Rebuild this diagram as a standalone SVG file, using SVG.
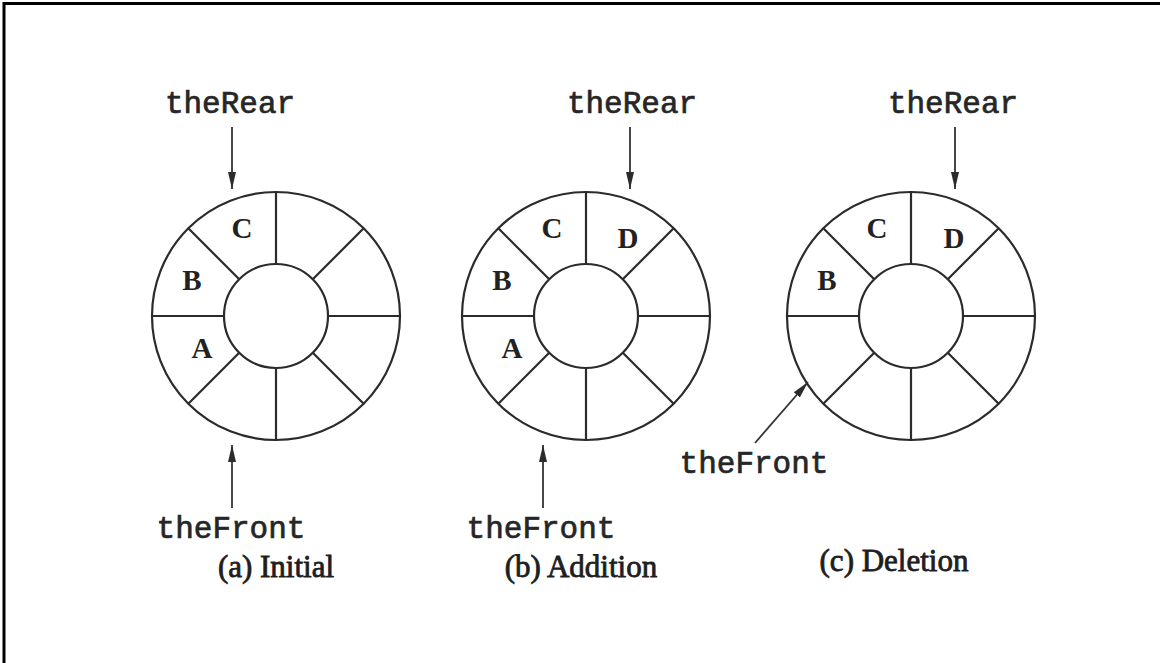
<svg xmlns="http://www.w3.org/2000/svg" xmlns:xlink="http://www.w3.org/1999/xlink" width="1160" height="663" viewBox="0 0 1160 663">
<style>
.ln{fill:none;stroke:#2b2b2b;stroke-width:2.2}
.mono{font-family:"Liberation Mono","Courier New",monospace;font-size:31px;fill:#262626;stroke:#262626;stroke-width:0.7;text-anchor:middle}
.ser{font-family:"Liberation Serif","Times New Roman",serif;font-size:31px;fill:#1e1e1e;stroke:#1e1e1e;stroke-width:0.8;text-anchor:middle}
.cell{font-family:"Liberation Serif","Times New Roman",serif;font-size:29px;font-weight:bold;fill:#222;text-anchor:middle}
.arr{fill:none;stroke:#333;stroke-width:1.8}
</style>
<defs>
<marker id="ah" markerUnits="userSpaceOnUse" markerWidth="20" markerHeight="12" refX="17" refY="5" orient="auto">
<path d="M0,1 L17,5 L0,9 Z" fill="#2b2b2b"/>
</marker>
<g id="ring">
<circle class="ln" cx="0" cy="0" r="124"/>
<circle class="ln" cx="0" cy="0" r="52"/>
<path class="ln" d="M52 0H124M-52 0H-124M0 52V124M0 -52V-124M36.77 36.77L87.68 87.68M-36.77 36.77L-87.68 87.68M36.77 -36.77L87.68 -87.68M-36.77 -36.77L-87.68 -87.68"/>
</g>
</defs>
<rect width="1160" height="663" fill="#fff"/>
<path d="M3 3.5H1160M4 2V663" stroke="#000" stroke-width="3" fill="none"/>

<g id="queue-a">
<use xlink:href="#ring" href="#ring" x="276" y="316"/>
<text class="cell" x="242" y="238">C</text>
<text class="cell" x="192" y="290">B</text>
<text class="cell" x="202" y="358">A</text>
</g>
<g id="queue-b">
<use xlink:href="#ring" href="#ring" x="586" y="316"/>
<text class="cell" x="552" y="238">C</text>
<text class="cell" x="628" y="248">D</text>
<text class="cell" x="502" y="290">B</text>
<text class="cell" x="512" y="358">A</text>
</g>
<g id="queue-c">
<use xlink:href="#ring" href="#ring" x="911" y="316"/>
<text class="cell" x="877" y="238">C</text>
<text class="cell" x="954" y="248">D</text>
<text class="cell" x="827" y="290">B</text>
</g>

<g id="labels">
<text class="mono" x="230" y="113">theRear</text>
<text class="mono" x="632" y="113">theRear</text>
<text class="mono" x="953" y="113">theRear</text>
<text class="mono" x="231" y="538">theFront</text>
<text class="mono" x="541" y="538">theFront</text>
<text class="mono" x="754" y="473">theFront</text>
</g>
<g id="captions">
<text class="ser" x="276" y="577">(a) Initial</text>
<text class="ser" x="581" y="577">(b) Addition</text>
<text class="ser" x="894" y="571">(c) Deletion</text>
</g>

<g id="connectors">
<line class="arr" x1="232" y1="127" x2="232" y2="189" marker-end="url(#ah)"/>
<line class="arr" x1="630" y1="127" x2="630" y2="189" marker-end="url(#ah)"/>
<line class="arr" x1="955" y1="127" x2="955" y2="189" marker-end="url(#ah)"/>
<line class="arr" x1="232" y1="508" x2="232" y2="445" marker-end="url(#ah)"/>
<line class="arr" x1="543" y1="508" x2="543" y2="445" marker-end="url(#ah)"/>
<line class="arr" x1="755" y1="443" x2="808" y2="382" marker-end="url(#ah)"/>
</g>
</svg>
